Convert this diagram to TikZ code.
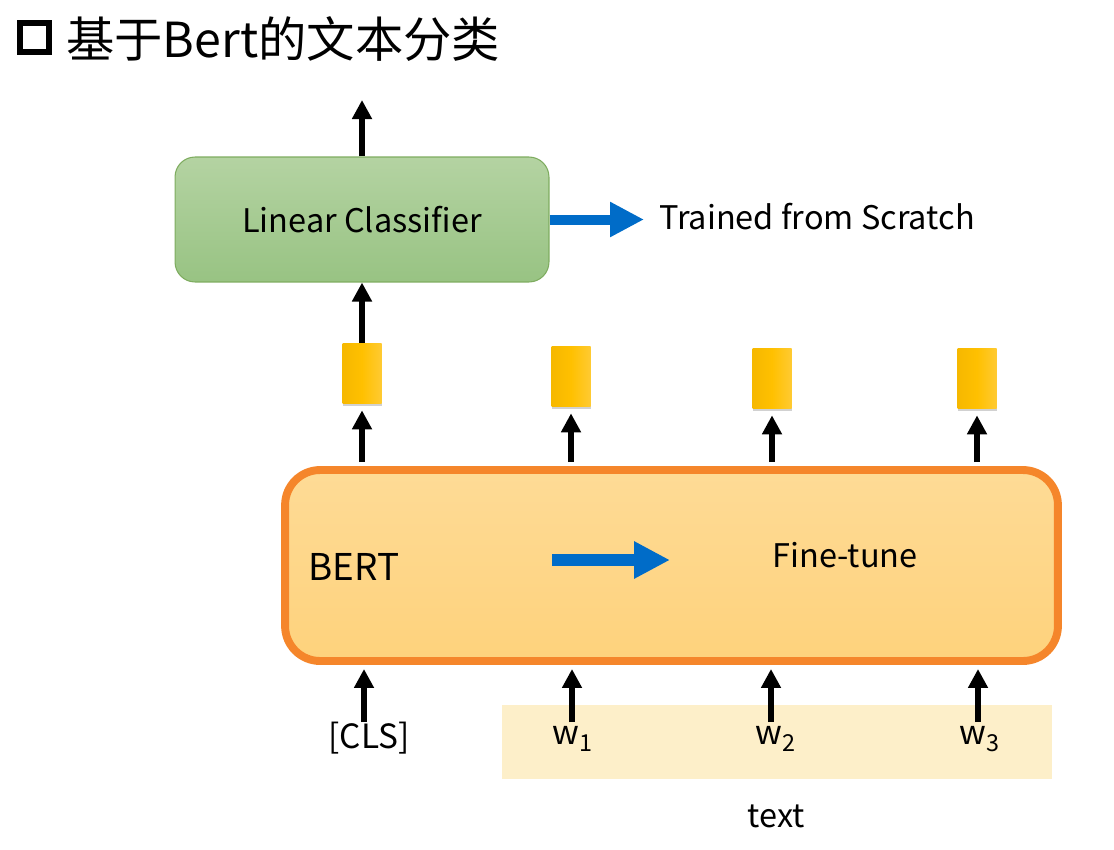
\documentclass[tikz,border=0pt]{standalone}
\usepackage{fontspec}
\setmainfont{Noto Sans CJK SC}
\usetikzlibrary{arrows.meta,shadows}
\definecolor{lingreenT}{RGB}{180,211,162}
\definecolor{lingreenB}{RGB}{152,195,131}
\definecolor{linedge}{RGB}{126,172,95}
\definecolor{bertT}{RGB}{254,219,150}
\definecolor{bertB}{RGB}{254,210,124}
\definecolor{bertedge}{RGB}{245,134,43}
\definecolor{goldL}{RGB}{246,184,0}
\definecolor{goldM}{RGB}{255,192,0}
\definecolor{goldR}{RGB}{255,202,50}
\definecolor{textbg}{RGB}{253,239,201}
\definecolor{arrowblue}{RGB}{0,108,200}

\begin{document}
\begin{tikzpicture}[x=0.02cm, y=-0.02cm,
  blk/.style={line width=3.3pt, -{Triangle[length=0.38cm,width=0.38cm]}},
  blu/.style={draw=arrowblue, line width=0.2cm, -{Triangle[length=0.68cm,width=0.66cm]}},
  vec/.style={minimum width=0.78cm, minimum height=1.2cm, inner sep=0pt,
    left color=goldL, right color=goldR, middle color=goldM,
    drop shadow={shadow xshift=0.3pt, shadow yshift=-1.6pt, fill=black!60, opacity=0.3}},
  lbl/.style={font=\fontsize{18.5}{22}\selectfont},
  word/.style={font=\fontsize{19}{22}\selectfont, inner sep=0pt}]
\useasboundingbox (0,0) rectangle (1114,849);

% Title
\node[draw, line width=3.4pt, minimum size=0.58cm, inner sep=0pt] (bullet) at (34.5,37.5) {};
\node[anchor=west, inner sep=0pt, font=\fontsize{27.5}{32}\selectfont] (title) at (66,39) {基于Bert的文本分类};

% Linear classifier
\node[draw=linedge, line width=0.6pt, rounded corners=0.4cm, top color=lingreenT, bottom color=lingreenB,
  minimum width=7.48cm, minimum height=2.5cm, lbl] (lin) at (362,219.5) {Linear Classifier};
\coordinate (out) at (362,100);
\draw[blk] (lin.north) -- (out);
\node[lbl, anchor=west, inner sep=0pt] (trained) at (659,217) {Trained from Scratch};
\draw[blu, shorten >=0.3cm] (lin.east) -- (lin.east -| trained.west);

% BERT
\node[draw=bertedge, line width=4.5pt, rounded corners=0.7cm, top color=bertT, bottom color=bertB,
  minimum width=15.46cm, minimum height=3.82cm] (bert) at (671.5,565.5) {};
\node[anchor=west, inner sep=0pt, font=\fontsize{21}{24}\selectfont] (bertname) at (308,567) {BERT};
\node[lbl] (ft) at (845,555) {Fine-tune};
\coordinate (ft0) at (552,560);
\coordinate (ft1) at (670,560);
\draw[blu, line width=0.24cm, -{Triangle[length=0.72cm,width=0.7cm]}] (ft0) -- (ft1);

% output vectors
\foreach \n/\x/\y in {1/362/373, 2/571/376, 3/772/378, 4/977/378} {
  \node[vec] (g\n) at (\x,\y) {};
  \draw[blk, shorten <=2.3pt, shorten >=0.14cm] (g\n.south |- bert.north) -- (g\n.south);
}
\draw[blk] (g1.north) -- (lin.south);

% input tokens
\node[fill=textbg, minimum width=11cm, minimum height=1.48cm, inner sep=0pt] (textbox) at (777,741.5) {};
\node[word] (cls) at (369,738) {[CLS]};
\node[word] (w1) at (573,739) {w\textsubscript{1}};
\node[word] (w2) at (776,739) {w\textsubscript{2}};
\node[word] (w3) at (980,739) {w\textsubscript{3}};
\node[lbl] (textlbl) at (776,816) {text};
\foreach \n/\x in {cls/364, w1/572, w2/771, w3/978} {
  \coordinate (\n base) at (\x,722);
  \draw[blk, shorten >=2.3pt] (\n base) -- (\n base |- bert.south);
}
\end{tikzpicture}
\end{document}
